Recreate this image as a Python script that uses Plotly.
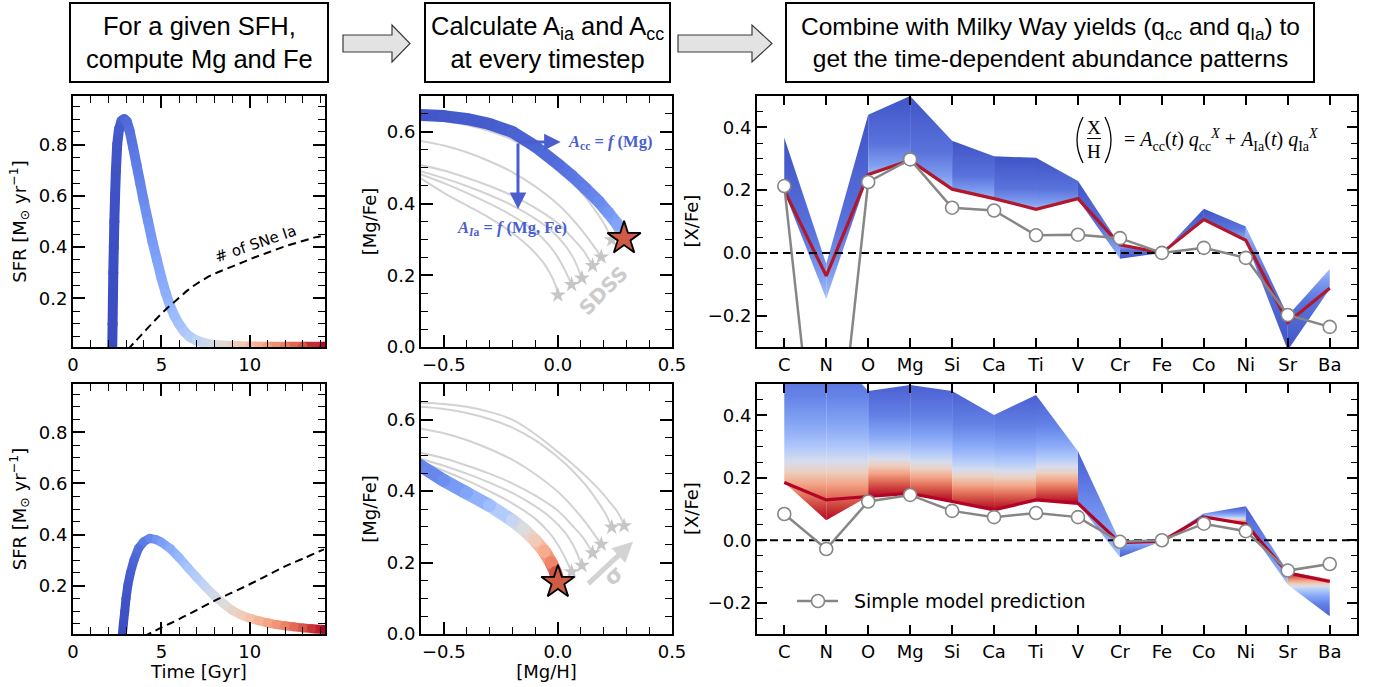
import plotly.graph_objects as go
from plotly.colors import sample_colorscale

W, H = 1379, 687

# ---------------- data: left panels (star-formation histories) ----------------
sfh_top_time = [2.22, 2.24, 2.26, 2.28, 2.31, 2.34, 2.38, 2.43, 2.5, 2.6, 2.75, 2.9, 3.05, 3.2, 3.4,
                3.6, 3.8, 4.0, 4.25, 4.5, 4.75, 5.0, 5.25, 5.5, 5.75, 6.0, 6.3, 6.6, 7.0, 7.5, 8.0,
                9.0, 10.0, 11.0, 12.0, 13.0, 14.2]
sfh_top_sfr = [0.0, 0.1, 0.2, 0.3, 0.4, 0.5, 0.6, 0.7, 0.8, 0.86, 0.893, 0.9, 0.89, 0.855, 0.79,
               0.72, 0.65, 0.58, 0.5, 0.42, 0.35, 0.28, 0.22, 0.17, 0.13, 0.10, 0.07, 0.05, 0.035,
               0.024, 0.018, 0.014, 0.012, 0.011, 0.011, 0.011, 0.011]
snia_top_time = [3.1, 3.5, 4.0, 4.5, 5.0, 5.5, 6.0, 6.5, 7.0, 7.5, 8.0, 8.7, 9.5, 10.2, 11.0, 12.0,
                 13.0, 13.7, 14.2]
snia_top_n = [0.0, 0.03, 0.067, 0.104, 0.14, 0.172, 0.202, 0.232, 0.257, 0.278, 0.296, 0.316, 0.338,
              0.358, 0.378, 0.403, 0.424, 0.438, 0.445]

sfh_bot_time = [2.78, 2.85, 2.93, 3.0, 3.1, 3.25, 3.45, 3.7, 4.0, 4.35, 4.7, 5.0, 5.5, 6.0, 6.5, 7.0,
                7.5, 8.0, 8.5, 9.0, 9.5, 10.0, 10.5, 11.0, 11.5, 12.0, 12.5, 13.0, 13.5, 14.2]
sfh_bot_sfr = [0.0, 0.05, 0.1, 0.15, 0.2, 0.25, 0.3, 0.345, 0.372, 0.385, 0.38, 0.37, 0.345, 0.31,
               0.27, 0.232, 0.195, 0.16, 0.13, 0.103, 0.085, 0.072, 0.062, 0.054, 0.047, 0.042,
               0.038, 0.034, 0.031, 0.028]
snia_bot_time = [4.0, 5.0, 6.0, 7.0, 8.0, 9.0, 10.0, 11.0, 12.0, 13.0, 14.2]
snia_bot_n = [0.0, 0.035, 0.068, 0.104, 0.14, 0.172, 0.205, 0.24, 0.275, 0.305, 0.342]

# ---------------- data: middle panels ([Mg/Fe] vs [Mg/H] tracks) ----------------
track_A_x = [-0.62, -0.5, -0.4, -0.3, -0.2, -0.1, 0.0, 0.06, 0.12, 0.18, 0.22, 0.26, 0.29]
track_A_y = [0.648, 0.644, 0.636, 0.622, 0.6, 0.56, 0.51, 0.478, 0.443, 0.405, 0.375, 0.343, 0.305]
track_B_x = [-0.62, -0.5, -0.4, -0.3, -0.2, -0.1, 0.0, 0.06, 0.12, 0.17, 0.21, 0.236]
track_B_y = [0.637, 0.63, 0.619, 0.602, 0.578, 0.543, 0.495, 0.46, 0.418, 0.375, 0.335, 0.299]
track_C_x = [-0.62, -0.5, -0.4, -0.3, -0.2, -0.1, 0.0, 0.07, 0.13, 0.19]
track_C_y = [0.577, 0.562, 0.543, 0.518, 0.488, 0.448, 0.398, 0.352, 0.305, 0.251]
track_D_x = [-0.62, -0.5, -0.4, -0.3, -0.2, -0.1, 0.0, 0.06, 0.11, 0.152]
track_D_y = [0.51, 0.492, 0.472, 0.449, 0.422, 0.388, 0.345, 0.306, 0.27, 0.227]
track_E_x = [-0.62, -0.5, -0.4, -0.3, -0.2, -0.1, -0.03, 0.03, 0.07, 0.105]
track_E_y = [0.494, 0.471, 0.449, 0.424, 0.395, 0.358, 0.325, 0.285, 0.245, 0.192]
track_F_x = [-0.62, -0.5, -0.4, -0.3, -0.2, -0.1, -0.04, 0.0, 0.03, 0.06]
track_F_y = [0.486, 0.457, 0.43, 0.4, 0.366, 0.323, 0.285, 0.25, 0.215, 0.174]
track_G_x = [-0.62, -0.5, -0.4, -0.3, -0.2, -0.15, -0.1, -0.06, -0.03, -0.01, 0.0]
track_G_y = [0.478, 0.43, 0.395, 0.36, 0.318, 0.293, 0.262, 0.232, 0.2, 0.172, 0.148]
# time fraction (colour) along the highlighted tracks
track_A_tfrac = [0.02, 0.03, 0.035, 0.04, 0.05, 0.06, 0.08, 0.1, 0.12, 0.15, 0.18, 0.22, 0.3]
track_G_tfrac = [0.12, 0.16, 0.22, 0.3, 0.42, 0.5, 0.6, 0.7, 0.8, 0.9, 1.0]
# SDSS end points
sdss_mgh = [0.29, 0.236, 0.19, 0.152, 0.105, 0.06, 0.0]
sdss_mgfe = [0.303, 0.299, 0.251, 0.227, 0.192, 0.174, 0.145]

# ---------------- data: right panels (abundance patterns) ----------------
elements = ['C', 'N', 'O', 'Mg', 'Si', 'Ca', 'Ti', 'V', 'Cr', 'Fe', 'Co', 'Ni', 'Sr', 'Ba']
simple_top = [0.213, -1.0, 0.226, 0.298, 0.144, 0.135, 0.056, 0.058, 0.047, 0.0, 0.016, -0.016, -0.198, -0.236]
final_top = [0.200, -0.073, 0.250, 0.295, 0.203, 0.173, 0.139, 0.173, 0.026, 0.0, 0.106, 0.040, -0.222, -0.113]
band_top_hi = [0.367, -0.035, 0.44, 0.50, 0.357, 0.308, 0.303, 0.229, 0.026, 0.0, 0.141, 0.084, -0.2, -0.051]
band_top_lo = [0.195, -0.147, 0.245, 0.29, 0.2, 0.17, 0.136, 0.17, -0.019, 0.0, 0.103, 0.037, -0.31, -0.115]

simple_bot = [0.084, -0.028, 0.124, 0.145, 0.094, 0.074, 0.087, 0.074, -0.005, 0.0, 0.053, 0.029, -0.097, -0.076]
final_bot = [0.185, 0.129, 0.140, 0.150, 0.124, 0.097, 0.129, 0.118, -0.008, -0.003, 0.075, 0.052, -0.105, -0.132]
band_bot_hi = [0.62, 0.62, 0.478, 0.497, 0.478, 0.401, 0.465, 0.285, -0.005, 0.0, 0.086, 0.109, -0.1, -0.125]
band_bot_lo = [0.185, 0.064, 0.14, 0.15, 0.124, 0.097, 0.129, 0.118, -0.054, -0.003, 0.072, 0.05, -0.142, -0.243]

# ---------------- styles ----------------
COOLWARM = [[0.0, '#3b4cc0'], [0.1, '#5977e3'], [0.2, '#7b9ff9'], [0.3, '#9ebeff'], [0.4, '#c0d4f5'],
            [0.5, '#dddcdc'], [0.6, '#f2cbb7'], [0.7, '#f7ac8e'], [0.8, '#ee8468'], [0.9, '#d65244'],
            [1.0, '#b40426']]
TOP_CS = [[0.0, '#a3bdf7'], [0.15, '#7e9cef'], [0.4, '#5a73dc'], [1.0, '#4054c6']]
BOT_CS = [[0.0, '#b40426'], [0.07, '#c93a3a'], [0.14, '#e2705a'], [0.21, '#f3a689'], [0.28, '#ecd0c2'],
          [0.34, '#d5dcee'], [0.42, '#b0c8fa'], [0.55, '#86a6f6'], [0.72, '#6482e6'], [1.0, '#4b5fd2']]
BOT_CROSS_CS = [[0.0, '#a9c3fa'], [0.3, '#7c9cf3'], [0.7, '#5d78e2'], [1.0, '#4b5fd2']]
BLUE_TXT = '#4a5ed0'
GRAY_TRACK = 'rgba(205,205,205,0.9)'
TICKFONT = dict(family='DejaVu Sans', size=18, color='black')


def px(x):
    return x / W


def py(y):
    return 1 - y / H


fig = go.Figure()


def tr(**kw):
    kw.setdefault('showlegend', False)
    kw.setdefault('hoverinfo', 'skip')
    fig.add_trace(go.Scatter(**kw))


def gradient_line(x, y, c, width, xa, ya):
    cols = sample_colorscale(COOLWARM, c)
    for i in range(len(x) - 1):
        seg = sample_colorscale(COOLWARM, [(c[i] + c[i + 1]) / 2])[0]
        tr(x=[x[i], x[i + 1]], y=[y[i], y[i + 1]], mode='lines',
           line=dict(color=seg, width=width), xaxis=xa, yaxis=ya)
    tr(x=x, y=y, mode='markers', marker=dict(size=width, color=cols, line=dict(width=0)),
       xaxis=xa, yaxis=ya)


def time_frac(t):
    t0, t1 = t[0], t[-1]
    return [min(max((v - t0) / (t1 - t0), 0), 1) for v in t]


# ---- left panels ----
for (tt, ss, nt, nn, xa, ya, w) in [
        (sfh_top_time, sfh_top_sfr, snia_top_time, snia_top_n, 'x', 'y', 10),
        (sfh_bot_time, sfh_bot_sfr, snia_bot_time, snia_bot_n, 'x4', 'y4', 9)]:
    gradient_line(tt, ss, time_frac(tt), w, xa, ya)
    tr(x=nt, y=nn, mode='lines', line=dict(color='black', width=2, dash='8px,5px', shape='spline'),
       xaxis=xa, yaxis=ya)

# ---- middle panels ----
tracks = [(track_A_x, track_A_y), (track_B_x, track_B_y), (track_C_x, track_C_y), (track_D_x, track_D_y),
          (track_E_x, track_E_y), (track_F_x, track_F_y), (track_G_x, track_G_y)]
for xa, ya, hi in [('x2', 'y2', 0), ('x5', 'y5', 6)]:
    for tx, ty in tracks:
        tr(x=tx, y=ty, mode='lines', line=dict(color=GRAY_TRACK, width=2, shape='spline'),
           xaxis=xa, yaxis=ya)
    if hi == 0:
        gradient_line(track_A_x, track_A_y, track_A_tfrac, 12, xa, ya)
    else:
        gradient_line(track_G_x, track_G_y, track_G_tfrac, 13, xa, ya)
    gx = [v for i, v in enumerate(sdss_mgh) if i != hi]
    gy = [v for i, v in enumerate(sdss_mgfe) if i != hi]
    tr(x=gx, y=gy, mode='markers', marker=dict(symbol='star', size=12, color='#c6c6c6', line=dict(width=0)),
       xaxis=xa, yaxis=ya)
    tr(x=[sdss_mgh[hi]], y=[sdss_mgfe[hi]], mode='markers',
       marker=dict(symbol='star', size=25, color='#cd5b45', line=dict(width=1.8, color='black')),
       xaxis=xa, yaxis=ya)


# ---- right panels ----
def band(hi, lo, final, cs, cross_cs, xa, ya):
    def above(j):
        return (hi[j] - final[j]) >= (final[j] - lo[j])

    for i in range(len(hi) - 1):
        xs = [i, i + 1, i + 1, i, i]
        ys = [hi[i], hi[i + 1], lo[i + 1], lo[i], hi[i]]
        up = (hi[i] - final[i] + hi[i + 1] - final[i + 1]) >= (final[i] - lo[i] + final[i + 1] - lo[i + 1])
        lo_y, hi_y = min(ys), max(ys)
        if hi_y - lo_y < 1e-4:
            continue
        scale = cs if above(i) == above(i + 1) else cross_cs
        if not up:
            scale = [[1 - p, c] for p, c in reversed(scale)]
        tr(x=xs, y=ys, mode='lines', fill='toself', line=dict(width=0, color='rgba(0,0,0,0)'),
           fillgradient=dict(type='vertical', colorscale=scale, start=lo_y, stop=hi_y),
           xaxis=xa, yaxis=ya)


ex = list(range(len(elements)))
for (hi, lo, fin, sim, cs, ccs, xa, ya, rc) in [
        (band_top_hi, band_top_lo, final_top, simple_top, TOP_CS, TOP_CS, 'x3', 'y3', '#b2182b'),
        (band_bot_hi, band_bot_lo, final_bot, simple_bot, BOT_CS, BOT_CROSS_CS, 'x6', 'y6', '#b40426')]:
    band(hi, lo, fin, cs, ccs, xa, ya)
    tr(x=ex, y=fin, mode='lines', line=dict(color=rc, width=3.2), xaxis=xa, yaxis=ya)
    tr(x=[-0.65, 13.65], y=[0, 0], mode='lines', line=dict(color='black', width=2, dash='8px,5px'),
       xaxis=xa, yaxis=ya)
    tr(x=ex, y=sim, mode='lines+markers', line=dict(color='#868686', width=2.5),
       marker=dict(size=13, color='white', line=dict(color='#868686', width=1.6)),
       xaxis=xa, yaxis=ya)


# ---------------- axes ----------------
def axis(domain, rng, anchor, tickvals, ticktext, minor_dtick=None, ticklen=12, minlen=7, **kw):
    d = dict(domain=domain, range=rng, anchor=anchor, showline=True, linecolor='black', linewidth=1.8,
             mirror='ticks', ticks='inside', ticklen=ticklen, tickwidth=1.6, tickcolor='black',
             showgrid=False, zeroline=False, tickfont=TICKFONT, tickmode='array', tickvals=tickvals,
             ticktext=ticktext, fixedrange=True, automargin=False)
    if minor_dtick:
        d['minor'] = dict(dtick=minor_dtick, tick0=0, ticks='inside', ticklen=minlen, tickwidth=1.4,
                          tickcolor='black', showgrid=False)
    d.update(kw)
    return d


XD_L = [px(73), px(325)]
XD_M = [px(421), px(672)]
XD_R = [px(757), px(1357)]
YD_T = [py(347), py(96)]
YD_B = [py(634), py(384)]
TITLE_FONT = dict(family='DejaVu Sans', size=18, color='black')
sfr_title = dict(text='SFR [M<sub>⊙</sub> yr<sup>−1</sup>]', font=TITLE_FONT, standoff=8)
mgfe_title = dict(text='[Mg/Fe]', font=TITLE_FONT, standoff=6)

lx = dict(tickvals=[0, 5, 10], ticktext=['0', '5', '10'], minor_dtick=1)
ly = dict(tickvals=[0.2, 0.4, 0.6, 0.8], ticktext=['0.2', '0.4', '0.6', '0.8'], minor_dtick=0.05)
mx = dict(tickvals=[-0.5, 0, 0.5], ticktext=['−0.5', '0.0', '0.5'], minor_dtick=0.1)
my = dict(tickvals=[0, 0.2, 0.4, 0.6], ticktext=['0.0', '0.2', '0.4', '0.6'], minor_dtick=0.05)
rx = dict(tickvals=ex, ticktext=elements, ticklen=9)
ry = dict(tickvals=[-0.2, 0, 0.2, 0.4], ticktext=['−0.2', '0.0', '0.2', '0.4'], minor_dtick=0.05,
          ticklen=10, minlen=6)

fig.update_layout(
    xaxis=axis(XD_L, [0, 14.26], 'y', **lx),
    yaxis=axis(YD_T, [0.01, 0.99], 'x', title=sfr_title, **ly),
    xaxis2=axis(XD_M, [-0.6, 0.5], 'y2', **mx),
    yaxis2=axis(YD_T, [0, 0.7], 'x2', title=mgfe_title, **my),
    xaxis3=axis(XD_R, [-0.65, 13.65], 'y3', **rx),
    yaxis3=axis(YD_T, [-0.3, 0.5], 'x3', **ry),
    xaxis4=axis(XD_L, [0, 14.26], 'y4', title=dict(text='Time [Gyr]', font=TITLE_FONT, standoff=5), **lx),
    yaxis4=axis(YD_B, [0.01, 0.99], 'x4', title=sfr_title, **ly),
    xaxis5=axis(XD_M, [-0.6, 0.5], 'y5', title=dict(text='[Mg/H]', font=TITLE_FONT, standoff=5), **mx),
    yaxis5=axis(YD_B, [0, 0.7], 'x5', title=mgfe_title, **my),
    xaxis6=axis(XD_R, [-0.65, 13.65], 'y6', **rx),
    yaxis6=axis(YD_B, [-0.3, 0.5], 'x6', **ry),
)

# ---------------- header boxes, arrows, annotations ----------------
shapes = []
annos = []


def pnote(x, y, text, font, xanchor='center', **kw):
    d = dict(xref='paper', yref='paper', x=px(x), y=py(y), text=text, showarrow=False, font=font,
             xanchor=xanchor, yanchor='middle')
    d.update(kw)
    annos.append(d)


# [X/Fe] axis titles for the abundance panels
pnote(691, 221.5, '[X/Fe]', TITLE_FONT, textangle=-90)
pnote(691, 509, '[X/Fe]', TITLE_FONT, textangle=-90)

for (x0, x1, fs, text) in [
        (70, 328, 25.5, 'For a given SFH,<br>compute Mg and Fe'),
        (425, 670, 25.5, 'Calculate A<sub>ia</sub> and A<sub>cc</sub><br>at every timestep'),
        (786, 1314, 24.5, 'Combine with Milky Way yields (q<sub>cc</sub> and q<sub>Ia</sub>) to<br>'
                          'get the time-dependent abundance patterns')]:
    shapes.append(dict(type='rect', xref='paper', yref='paper', x0=px(x0), x1=px(x1), y0=py(82), y1=py(3),
                       line=dict(color='black', width=2), fillcolor='white', layer='above'))
    pnote((x0 + x1) / 2, 42.5, text, dict(family='Liberation Sans', size=fs, color='black'), align='center')


def arrow_path(xs, xh, xt):
    pts = [(xs, 35), (xh, 35), (xh, 25), (xt, 43.5), (xh, 62), (xh, 52), (xs, 52)]
    return 'M ' + ' L '.join(f'{px(a):.5f},{py(b):.5f}' for a, b in pts) + ' Z'


for xs, xh, xt in [(343, 392, 410), (678, 752, 772)]:
    shapes.append(dict(type='path', xref='paper', yref='paper', path=arrow_path(xs, xh, xt),
                       fillcolor='#e3e3e3', line=dict(color='#3a3a3a', width=1.2)))

# "# of SNe Ia" label
annos.append(dict(xref='x', yref='y', x=10.3, y=0.414, text='# of SNe Ia', showarrow=False, textangle=-19,
                  font=dict(family='DejaVu Sans', size=15, color='black')))

# blue arrows / labels (top middle)
for hx, hy in [(0.012, 0.572), (-0.175, 0.385)]:
    annos.append(dict(xref='x2', yref='y2', axref='x2', ayref='y2', x=hx, y=hy, ax=-0.175, ay=0.572,
                      text='', showarrow=True, arrowhead=2, arrowsize=1.1, arrowwidth=3,
                      arrowcolor=BLUE_TXT, standoff=0, startstandoff=0))
annos.append(dict(xref='x2', yref='y2', x=0.035, y=0.571, xanchor='left', yanchor='middle', showarrow=False,
                  text='<b><i>A</i><sub>cc</sub> = <i>f</i> (Mg)</b>',
                  font=dict(family='Liberation Serif', size=16.5, color=BLUE_TXT)))
annos.append(dict(xref='x2', yref='y2', x=-0.2, y=0.332, showarrow=False,
                  text='<b><i>A</i><sub><i>I</i>a</sub> = <i>f</i> (Mg, Fe)</b>',
                  font=dict(family='Liberation Serif', size=16.5, color=BLUE_TXT)))
annos.append(dict(xref='x2', yref='y2', x=0.198, y=0.156, showarrow=False, text='<b>SDSS</b>', textangle=-45,
                  font=dict(family='DejaVu Sans', size=20, color='#cccccc')))

# sigma arrow (bottom middle)
annos.append(dict(xref='x5', yref='y5', axref='x5', ayref='y5', x=0.329, y=0.258, ax=0.127, ay=0.137,
                  text='', showarrow=True, arrowhead=2, arrowsize=0.8, arrowwidth=5, arrowcolor='#d3d3d3',
                  standoff=0, startstandoff=0))
annos.append(dict(xref='x5', yref='y5', x=0.243, y=0.163, showarrow=False, text='<b>σ</b>', textangle=-43,
                  font=dict(family='DejaVu Sans', size=22, color='#cccccc')))

# formula (top right)
FF = dict(family='Liberation Serif', size=19, color='black')
shapes.append(dict(type='path', xref='paper', yref='paper',
                   path=f'M {px(1083):.5f},{py(117):.5f} Q {px(1071):.5f},{py(140):.5f} {px(1083):.5f},{py(163):.5f}',
                   line=dict(color='black', width=1.3)))
shapes.append(dict(type='path', xref='paper', yref='paper',
                   path=f'M {px(1105):.5f},{py(117):.5f} Q {px(1117):.5f},{py(140):.5f} {px(1105):.5f},{py(163):.5f}',
                   line=dict(color='black', width=1.3)))
shapes.append(dict(type='line', xref='paper', yref='paper', x0=px(1087), x1=px(1101), y0=py(138.5), y1=py(138.5),
                   line=dict(color='black', width=1)))
pnote(1094, 127, 'X', FF)
pnote(1094, 151, 'H', FF)
pnote(1122, 140, '= <i>A</i><sub>cc</sub>(<i>t</i>) <i>q</i><sub>cc</sub><sup><i>X</i></sup> + '
                 '<i>A</i><sub>Ia</sub>(<i>t</i>) <i>q</i><sub>Ia</sub><sup><i>X</i></sup>',
      dict(family='Liberation Serif', size=20, color='black'), xanchor='left')

# legend (bottom right)
shapes.append(dict(type='line', xref='paper', yref='paper', x0=px(797), x1=px(838), y0=py(601), y1=py(601),
                   line=dict(color='#868686', width=2.5)))
shapes.append(dict(type='circle', xref='paper', yref='paper', x0=px(811.5), x1=px(824.5), y0=py(607.5),
                   y1=py(594.5), fillcolor='white', line=dict(color='#868686', width=1.6)))
pnote(852, 601, 'Simple model prediction', dict(family='DejaVu Sans', size=19, color='black'), xanchor='left')

fig.update_layout(shapes=shapes, annotations=annos, width=W, height=H, template='none',
                  margin=dict(l=0, r=0, t=0, b=0, pad=0), paper_bgcolor='white', plot_bgcolor='white',
                  font=dict(family='DejaVu Sans', color='black'), showlegend=False)

fig.write_html('out.html')
